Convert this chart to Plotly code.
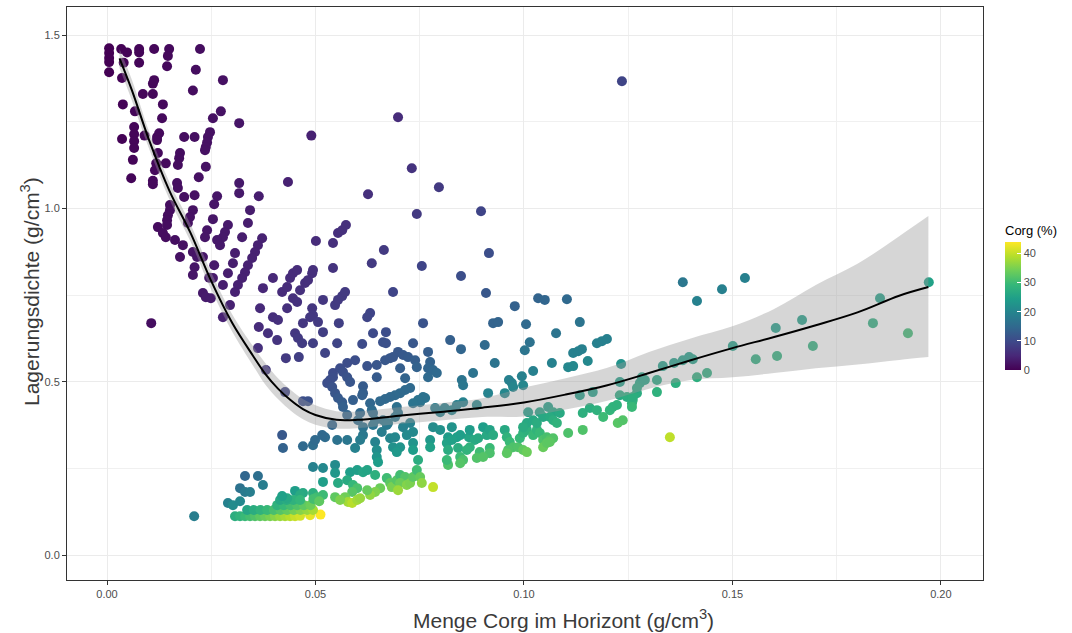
import plotly.graph_objects as go

# ---- data ----
# x: Menge Corg im Horizont (g/cm3), y: Lagerungsdichte (g/cm3), c: Corg (%)
menge_corg = [
    0.0005,0.0005,0.0005,0.0005,0.0005,0.0034,0.0048,0.0040,0.0036,0.0077,
    0.0077,0.0077,0.0113,0.0149,0.0146,0.0144,0.0223,0.0213,0.0278,0.0206,
    0.0110,0.0113,0.0086,0.0110,0.0038,0.0067,0.0134,0.0132,0.0254,0.0273,
    0.0317,0.0490,0.0036,0.0065,0.0065,0.0065,0.0065,0.0090,0.0125,0.0120,
    0.0120,0.0185,0.0210,0.0247,0.0242,0.0240,0.0237,0.0235,0.0062,0.0122,
    0.0175,0.0173,0.0170,0.0141,0.0118,0.0115,0.0237,0.0220,0.0058,0.0110,
    0.0110,0.0168,0.0170,0.0317,0.0434,0.0185,0.0210,0.0264,0.0317,0.0364,
    0.0257,0.0343,0.0151,0.0151,0.0146,0.0144,0.0144,0.0206,0.0199,0.0194,
    0.0254,0.0290,0.0283,0.0278,0.0240,0.0235,0.0338,0.0122,0.0134,0.0141,
    0.0163,0.0182,0.0324,0.0372,0.0362,0.0355,0.0348,0.0338,0.0331,0.0324,
    0.0314,0.0307,0.0271,0.0264,0.0307,0.0206,0.0216,0.0175,0.0230,0.0302,
    0.0210,0.0206,0.0257,0.0245,0.0254,0.0290,0.0278,0.0230,0.0237,0.0249,
    0.0295,0.0278,0.0106,0.0362,0.0381,0.0374,0.0398,0.0439,0.0446,0.0456,
    0.0420,0.0432,0.0463,0.0475,0.0482,0.0492,0.0494,0.0367,0.0398,0.0410,
    0.0432,0.0446,0.0456,0.0492,0.0494,0.0518,0.0547,0.0554,0.0564,0.0571,
    0.0542,0.0501,0.0542,0.0554,0.0564,0.0573,0.0364,0.0386,0.0408,0.0451,
    0.0458,0.0468,0.0470,0.0487,0.0506,0.0518,0.0494,0.0552,0.0556,0.0429,
    0.0460,0.0523,0.0542,0.0559,0.0576,0.0595,0.0698,0.1235,0.0731,0.0796,
    0.0626,0.0743,0.0897,0.0664,0.0635,0.0755,0.0916,0.0849,0.0686,0.0909,
    0.1034,0.1050,0.1103,0.0631,0.0624,0.0758,0.0638,0.0669,0.0662,0.0669,
    0.0612,0.0734,0.0823,0.0849,0.0906,0.0926,0.0698,0.0710,0.0722,0.0739,
    0.0667,0.0679,0.0686,0.0647,0.0624,0.0566,0.0576,0.0583,0.0542,0.0535,
    0.0528,0.0540,0.0547,0.0554,0.0564,0.0647,0.0614,0.0614,0.0770,0.0775,
    0.0770,0.0770,0.0782,0.0791,0.0715,0.0878,0.0851,0.0854,0.0930,0.0914,
    0.0727,0.0715,0.0703,0.0691,0.0679,0.0667,0.0655,0.0612,0.0590,0.0566,
    0.0763,0.0751,0.0631,0.0635,0.0695,0.0698,0.0810,0.0827,0.0839,0.0854,
    0.0799,0.0787,0.0607,0.0540,0.0827,0.0902,0.0662,0.0674,0.0427,0.0470,
    0.0482,0.0576,0.0638,0.0643,0.0638,0.0602,0.0614,0.0614,0.0607,0.0595,
    0.0552,0.0576,0.0523,0.0516,0.0420,0.0422,0.0470,0.0494,0.0499,0.0659,
    0.0671,0.0679,0.0691,0.0686,0.0643,0.0647,0.0647,0.0650,0.0703,0.0710,
    0.0719,0.0734,0.0734,0.0734,0.0775,0.0775,0.0782,0.0799,0.0818,0.0815,
    0.0818,0.0839,0.0868,0.0882,0.0890,0.0911,0.0918,0.0926,0.0842,0.0847,
    0.0854,0.0870,0.0863,0.0894,0.0887,0.0918,0.0494,0.0518,0.0547,0.0547,
    0.0518,0.0554,0.0583,0.0600,0.0614,0.0624,0.0576,0.0590,0.0600,0.0643,
    0.0671,0.0679,0.0683,0.0695,0.0703,0.0715,0.0703,0.0719,0.0727,0.0655,
    0.0643,0.0631,0.0624,0.0588,0.0734,0.0743,0.0746,0.0751,0.0755,0.0698,
    0.0782,0.0571,0.0578,0.0588,0.0600,0.0607,0.0547,0.0559,0.0331,0.0362,
    0.0319,0.0374,0.0331,0.0343,0.0290,0.0302,0.0319,0.0209,0.0451,0.0470,
    0.0307,0.0319,0.0331,0.0343,0.0355,0.0367,0.0379,0.0391,0.0403,0.0415,
    0.0427,0.0439,0.0451,0.0463,0.0487,0.0512,0.0494,0.0518,0.0463,0.0504,
    0.0336,0.0352,0.0368,0.0384,0.0400,0.0416,0.0432,0.0448,0.0464,0.0480,
    0.0494,0.0408,0.0424,0.0440,0.0456,0.0472,0.0488,0.0415,0.0431,0.0447,
    0.0463,0.0432,0.0758,0.0746,0.0734,0.0887,0.0954,0.0971,0.0998,0.1010,
    0.1038,0.1058,0.1070,0.1086,0.1134,0.1165,0.1141,0.1158,0.1175,0.1190,
    0.1206,0.1213,0.1223,0.1230,0.1247,0.1259,0.1225,0.1237,0.0695,0.0954,
    0.0959,0.0966,0.0974,0.0962,0.0959,0.0986,0.0998,0.1007,0.0990,0.0998,
    0.1007,0.1007,0.0998,0.1022,0.1031,0.1038,0.1046,0.1055,0.1062,0.1070,
    0.1022,0.1031,0.1046,0.1062,0.1070,0.1079,0.1046,0.1055,0.1062,0.1106,
    0.1141,0.1261,0.1271,0.1278,0.0847,0.0978,0.1381,0.1415,0.1475,0.1530,
    0.0938,0.1005,0.1134,0.1014,0.1002,0.1077,0.1175,0.1187,0.1199,0.1118,
    0.1130,0.1139,0.1153,0.1067,0.1022,0.1106,0.1118,0.1233,0.0995,0.0964,
    0.0974,0.1230,0.1271,0.1261,0.1259,0.1283,0.1290,0.1319,0.1319,0.1333,
    0.1360,0.1381,0.1396,0.1405,0.1364,0.1415,0.1439,0.1501,0.1350,0.1604,
    0.1667,0.1556,0.1607,0.1693,0.1854,0.1837,0.1921,0.1971,0.0847,0.0818,
    0.0815,0.0827,0.0918,0.0902,0.0870,0.0727,0.0691,0.0743,0.0703,0.0420,
    0.0495,0.0509,
]

lagerungsdichte = [
    1.462,1.448,1.434,1.422,1.393,1.460,1.450,1.420,1.376,1.460,
    1.450,1.420,1.460,1.460,1.440,1.410,1.460,1.400,1.370,1.340,
    1.360,1.370,1.330,1.330,1.300,1.280,1.300,1.260,1.260,1.280,
    1.246,1.210,1.200,1.235,1.214,1.194,1.174,1.210,1.217,1.206,
    1.197,1.206,1.206,1.220,1.206,1.190,1.177,1.168,1.140,1.160,
    1.160,1.145,1.125,1.130,1.130,1.110,1.120,1.090,1.087,1.080,
    1.070,1.073,1.059,1.073,1.076,1.033,1.038,1.035,1.044,1.035,
    1.012,0.995,1.010,0.995,0.980,0.966,0.952,0.995,0.975,0.958,
    0.969,0.952,0.932,0.917,0.937,0.917,0.958,0.946,0.929,0.917,
    0.909,0.894,0.917,0.914,0.894,0.874,0.857,0.836,0.816,0.799,
    0.779,0.759,0.894,0.909,0.871,0.874,0.860,0.860,0.860,0.842,
    0.830,0.808,0.836,0.800,0.799,0.813,0.779,0.756,0.744,0.741,
    0.721,0.686,0.669,0.597,0.534,0.770,0.799,0.799,0.813,0.822,
    0.759,0.773,0.764,0.785,0.793,0.813,0.822,0.712,0.686,0.678,
    0.712,0.741,0.730,0.712,0.692,0.736,0.721,0.736,0.747,0.759,
    0.828,0.906,0.900,0.929,0.937,0.952,0.658,0.640,0.620,0.640,
    0.626,0.611,0.669,0.686,0.672,0.643,0.611,0.611,0.669,0.568,
    0.571,0.583,0.525,0.539,0.554,0.562,1.263,1.367,1.116,1.061,
    1.041,0.984,0.992,0.880,0.842,0.834,0.871,0.805,0.759,0.756,
    0.741,0.736,0.738,0.698,0.686,0.669,0.640,0.643,0.614,0.611,
    0.609,0.611,0.620,0.594,0.606,0.669,0.586,0.577,0.571,0.562,
    0.562,0.568,0.571,0.548,0.545,0.528,0.513,0.499,0.513,0.505,
    0.496,0.485,0.467,0.453,0.441,0.513,0.487,0.467,0.586,0.557,
    0.539,0.513,0.534,0.525,0.510,0.525,0.505,0.490,0.554,0.467,
    0.482,0.476,0.467,0.461,0.456,0.450,0.444,0.461,0.447,0.427,
    0.453,0.441,0.438,0.418,0.427,0.410,0.424,0.418,0.433,0.441,
    0.412,0.424,0.410,0.375,0.369,0.369,0.389,0.381,0.470,0.444,
    0.444,0.404,0.410,0.389,0.375,0.389,0.369,0.346,0.332,0.309,
    0.332,0.332,0.340,0.346,0.346,0.309,0.314,0.317,0.332,0.355,
    0.375,0.337,0.340,0.311,0.326,0.303,0.283,0.268,0.311,0.369,
    0.346,0.355,0.323,0.303,0.332,0.311,0.369,0.361,0.340,0.323,
    0.303,0.340,0.340,0.332,0.337,0.346,0.361,0.346,0.309,0.283,
    0.274,0.311,0.303,0.297,0.280,0.309,0.254,0.251,0.260,0.237,
    0.211,0.208,0.239,0.245,0.239,0.245,0.216,0.202,0.193,0.231,
    0.222,0.208,0.196,0.216,0.231,0.225,0.208,0.202,0.208,0.193,
    0.182,0.173,0.187,0.182,0.225,0.245,0.274,0.225,0.208,0.187,
    0.196,0.167,0.153,0.150,0.159,0.164,0.167,0.159,0.228,0.228,
    0.193,0.202,0.182,0.182,0.150,0.144,0.155,0.112,0.185,0.179,
    0.112,0.112,0.112,0.112,0.112,0.112,0.112,0.112,0.112,0.112,
    0.112,0.112,0.112,0.113,0.115,0.1166,0.179,0.173,0.173,0.167,
    0.130,0.130,0.130,0.130,0.130,0.130,0.130,0.130,0.130,0.130,
    0.130,0.144,0.144,0.144,0.144,0.144,0.144,0.159,0.159,0.159,
    0.159,0.164,0.456,0.447,0.438,0.433,0.467,0.496,0.490,0.412,
    0.412,0.427,0.412,0.410,0.461,0.470,0.410,0.424,0.418,0.398,
    0.418,0.427,0.433,0.461,0.456,0.438,0.381,0.389,0.297,0.361,
    0.340,0.326,0.311,0.303,0.294,0.311,0.303,0.297,0.337,0.352,
    0.361,0.381,0.369,0.346,0.361,0.352,0.332,0.340,0.332,0.337,
    0.389,0.381,0.398,0.398,0.389,0.381,0.311,0.323,0.326,0.352,
    0.361,0.447,0.467,0.496,0.346,0.718,0.787,0.733,0.767,0.799,
    0.672,0.666,0.672,0.614,0.591,0.640,0.611,0.617,0.623,0.583,
    0.588,0.594,0.560,0.554,0.531,0.542,0.545,0.551,0.516,0.505,
    0.485,0.499,0.482,0.456,0.427,0.513,0.505,0.505,0.470,0.545,
    0.554,0.562,0.571,0.565,0.496,0.513,0.525,0.603,0.340,0.655,
    0.678,0.565,0.574,0.603,0.741,0.669,0.640,0.787,0.265,0.260,
    0.274,0.332,0.294,0.283,0.361,0.381,0.398,0.542,0.539,0.170,
    0.162,0.155,
]

corg_pct = [
    0.03,0.03,0.03,0.04,0.04,0.23,0.33,0.28,0.26,0.53,
    0.53,0.54,0.77,1.02,1.01,1.02,1.53,1.52,2.03,1.54,
    0.81,0.82,0.65,0.83,0.29,0.52,1.03,1.05,2.02,2.13,
    2.54,4.05,0.30,0.53,0.54,0.54,0.55,0.74,1.03,1.00,
    1.00,1.53,1.74,2.02,2.01,2.02,2.01,2.01,0.54,1.05,
    1.51,1.51,1.51,1.25,1.04,1.04,2.12,2.02,0.53,1.02,
    1.03,1.57,1.61,2.95,4.03,1.79,2.02,2.55,3.04,3.52,
    2.54,3.45,1.50,1.52,1.49,1.49,1.51,2.07,2.04,2.03,
    2.62,3.05,3.04,3.03,2.56,2.56,3.53,1.29,1.44,1.54,
    1.79,2.04,3.53,4.07,4.05,4.06,4.06,4.04,4.06,4.06,
    4.03,4.04,3.03,2.90,3.52,2.36,2.51,2.03,2.67,3.59,
    2.53,2.55,3.07,3.06,3.18,3.57,3.57,3.04,3.19,3.36,
    4.09,4.05,1.58,6.06,7.13,4.86,4.98,5.49,5.49,5.55,
    5.53,5.59,6.06,6.05,6.08,6.05,6.01,5.15,5.80,6.05,
    6.07,6.02,6.25,6.91,7.14,7.04,7.59,7.53,7.55,7.52,
    6.55,5.53,6.02,5.96,6.02,6.02,5.53,6.03,6.58,7.05,
    7.32,7.66,7.03,7.10,7.53,8.06,8.09,9.03,8.31,7.55,
    8.06,8.97,10.3,10.4,10.4,10.6,5.53,9.03,6.55,7.50,
    6.01,7.55,9.04,7.55,7.54,9.05,10.5,10.5,9.04,12.0,
    13.95,14.3,14.9,9.04,9.10,11.3,9.97,10.4,10.8,10.9,
    10.0,12.0,13.3,14.3,14.95,13.8,11.9,12.3,12.6,13.1,
    11.9,12.0,12.0,11.8,11.4,10.7,11.2,11.7,10.6,10.6,
    10.6,11.1,11.7,12.2,12.8,12.6,12.6,13.1,13.1,13.9,
    14.3,15.0,14.6,15.1,14.0,16.7,16.9,17.4,16.8,19.6,
    15.1,15.0,15.1,15.0,14.9,14.8,14.8,13.3,13.2,13.3,
    16.8,17.0,14.4,15.2,16.3,17.0,19.1,19.8,19.4,19.4,
    19.4,18.6,14.8,14.4,22.4,24.4,17.0,17.7,9.09,10.6,
    10.9,14.3,15.6,16.5,17.0,15.5,16.6,17.7,18.3,19.3,
    16.6,17.3,15.4,14.9,12.1,13.7,15.0,15.6,15.0,18.6,
    17.9,20.1,20.3,22.1,19.7,21.4,22.9,24.3,22.6,19.2,
    20.8,20.7,22.7,24.2,23.3,24.9,21.2,22.1,24.1,25.2,
    27.0,24.7,25.5,26.6,26.4,26.3,25.4,26.8,27.2,29.9,
    31.2,28.0,28.5,30.1,31.7,29.7,19.4,20.6,21.0,23.1,
    24.5,26.6,24.4,24.5,25.7,25.5,26.7,29.2,31.1,27.8,
    30.2,32.6,34.8,32.2,30.4,31.8,33.8,35.6,35.0,33.9,
    35.3,36.5,33.4,32.3,32.6,30.3,27.2,33.4,36.3,37.3,
    39.9,34.2,37.8,39.2,37.7,37.0,32.8,35.2,14.5,15.9,
    16.5,18.5,18.2,18.8,19.3,21.0,20.6,18.7,24.4,26.3,
    27.4,28.5,29.6,30.6,31.7,32.8,33.8,34.9,36.0,37.1,
    38.1,39.2,40.3,41.0,42.3,43.9,27.6,29.9,26.8,30.2,
    25.8,27.1,28.3,29.5,30.8,32.0,33.2,34.5,35.7,36.9,
    38.0,28.3,29.4,30.6,31.7,32.8,33.9,26.1,27.1,28.1,
    29.1,26.3,16.6,16.7,16.8,20.5,20.4,19.6,20.4,24.5,
    25.2,24.8,26.0,26.5,24.6,24.8,27.8,27.3,28.1,29.9,
    28.9,28.4,28.2,26.7,27.3,28.7,32.2,31.8,23.4,26.4,
    28.2,29.6,31.3,31.7,32.6,31.7,32.9,33.9,29.4,28.4,
    27.9,26.4,27.0,29.5,28.6,29.5,31.5,31.0,32.0,31.8,
    26.3,27.1,26.3,26.7,27.5,28.3,33.6,32.7,32.6,31.4,
    31.6,28.2,27.2,25.8,24.5,13.6,17.5,19.3,19.2,19.1,
    14.0,15.1,16.9,16.5,17.0,16.8,19.2,19.2,19.2,19.2,
    19.2,19.2,20.6,19.3,19.2,20.4,20.5,22.4,19.3,19.1,
    20.1,24.6,26.4,27.6,29.5,25.0,25.5,26.1,28.1,24.5,
    24.5,24.6,24.4,24.9,27.5,27.6,27.4,24.9,39.7,24.5,
    24.6,27.5,28.0,28.1,25.0,27.5,30.0,25.0,32.0,31.5,
    29.7,24.9,31.2,31.9,24.1,19.1,17.4,13.7,13.0,24.7,
    30.6,32.8,
]

# loess smoother with confidence band
smooth_x = [0.003,0.006,0.010,0.015,0.020,0.025,0.030,0.035,0.038,0.041,0.044,0.047,0.050,
            0.055,0.060,0.070,0.080,0.090,0.100,0.110,0.120,0.130,0.140,0.150,0.160,0.170,
            0.180,0.190,0.197]
smooth_y = [1.433,1.340,1.200,1.050,0.930,0.790,0.670,0.575,0.522,0.480,0.447,0.421,0.404,
            0.390,0.390,0.402,0.413,0.425,0.440,0.463,0.490,0.525,0.562,0.597,0.629,0.663,
            0.700,0.748,0.773]
smooth_upper = [1.460,1.370,1.225,1.075,0.955,0.815,0.695,0.603,0.553,0.510,0.477,0.450,0.432,
                0.415,0.414,0.426,0.438,0.452,0.483,0.510,0.540,0.586,0.625,0.660,0.710,0.779,
                0.840,0.920,0.978]
smooth_lower = [1.405,1.310,1.175,1.025,0.905,0.765,0.645,0.547,0.491,0.450,0.417,0.392,0.376,
                0.365,0.366,0.378,0.388,0.398,0.400,0.420,0.445,0.480,0.505,0.513,0.525,0.539,
                0.550,0.563,0.571]

x_ticks = [0.0, 0.05, 0.10, 0.15, 0.20]
x_ticklabels = ["0.00", "0.05", "0.10", "0.15", "0.20"]
y_ticks = [0.0, 0.5, 1.0, 1.5]
y_ticklabels = ["0.0", "0.5", "1.0", "1.5"]
cbar_ticks = [0, 10, 20, 30, 40]

# ---- figure ----
W, H = 1072, 633
ML, MR, MT, MB = 67, 89, 7, 53
PW, PH = W - ML - MR, H - MT - MB

def px_x(p):
    return (p - ML) / PW

def px_y(p):
    return (H - MB - p) / PH

fig = go.Figure()

fig.add_trace(go.Scatter(
    x=menge_corg, y=lagerungsdichte, mode="markers",
    marker=dict(
        size=10, color=corg_pct, colorscale="Viridis", cmin=0, cmax=43.9,
        line=dict(width=0),
        colorbar=dict(
            title=dict(text="Corg (%)", side="top", font=dict(size=13, color="#000000")),
            thickness=16, len=148, lenmode="pixels",
            x=px_x(1005), xanchor="left", xpad=0,
            y=px_y(296), yanchor="middle", ypad=0,
            tickvals=cbar_ticks, ticks="inside", ticklen=4, tickcolor="white",
            tickfont=dict(size=11, color="#4d4d4d"),
            outlinewidth=0,
        ),
    ),
    showlegend=False, hoverinfo="x+y",
))

fig.add_trace(go.Scatter(
    x=smooth_x, y=smooth_lower, mode="lines", line=dict(width=0, color="rgba(0,0,0,0)"),
    line_shape="spline", showlegend=False, hoverinfo="skip",
))
fig.add_trace(go.Scatter(
    x=smooth_x, y=smooth_upper, mode="lines", line=dict(width=0, color="rgba(0,0,0,0)"),
    line_shape="spline", fill="tonexty", fillcolor="rgba(153,153,153,0.4)",
    showlegend=False, hoverinfo="skip",
))
fig.add_trace(go.Scatter(
    x=smooth_x, y=smooth_y, mode="lines", line=dict(color="black", width=2, shape="spline"),
    showlegend=False, hoverinfo="skip",
))

axis_common = dict(
    showgrid=True, gridcolor="#ebebeb", gridwidth=1,
    ticks="outside", ticklen=4, tickwidth=1, tickcolor="#333333",
    showline=True, linecolor="#333333", linewidth=1, mirror=True,
    zeroline=False, tickfont=dict(size=11, color="#4d4d4d"),
)

fig.update_layout(
    width=W, height=H,
    margin=dict(l=ML, r=MR, t=MT, b=MB),
    plot_bgcolor="white", paper_bgcolor="white",
    font=dict(family="Liberation Sans, Arial, sans-serif"),
    xaxis=dict(range=[-0.0096, 0.2101], tickvals=x_ticks, ticktext=x_ticklabels,
               minor=dict(tickvals=[0.025, 0.075, 0.125, 0.175], showgrid=True,
                          gridcolor="#f0f0f0", gridwidth=0.6, ticks=""),
               **axis_common),
    yaxis=dict(range=[-0.072, 1.581], tickvals=y_ticks, ticktext=y_ticklabels,
               minor=dict(tickvals=[0.25, 0.75, 1.25], showgrid=True,
                          gridcolor="#f0f0f0", gridwidth=0.6, ticks=""),
               **axis_common),
    annotations=[
        dict(text="Menge Corg im Horizont (g/cm<sup>3</sup>)", xref="paper", yref="paper",
             x=px_x(563), y=px_y(619), xanchor="center", yanchor="middle",
             showarrow=False, font=dict(size=21, color="#3a3a3a")),
        dict(text="Lagerungsdichte (g/cm<sup>3</sup>)", xref="paper", yref="paper",
             x=px_x(30), y=px_y(292), xanchor="center", yanchor="middle", textangle=-90,
             showarrow=False, font=dict(size=21, color="#3a3a3a")),
    ],
)

fig.write_html("out.html", config={"displayModeBar": False},
               post_script="document.body.style.margin='0';document.body.style.overflow='hidden';")
